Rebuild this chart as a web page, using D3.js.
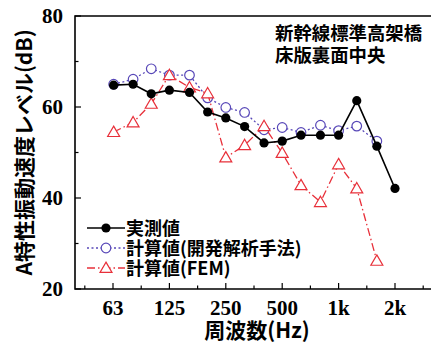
<!DOCTYPE html>
<html>
<head>
<meta charset="utf-8">
<script src="https://cdn.jsdelivr.net/npm/d3@7"></script>
<style>
  body { margin: 0; background: #fff; }
  svg { display: block; }
</style>
</head>
<body>
<div id="chart"></div>
<script>
// 1/3 octave band centre frequencies (Hz)
var freqs = [63, 80, 100, 125, 160, 200, 250, 315, 400, 500, 630, 800, 1000, 1250, 1600, 2000];
var measured = [64.8, 65.0, 62.9, 63.7, 63.2, 58.9, 57.6, 55.7, 52.1, 52.5, 53.8, 53.8, 53.8, 61.4, 51.4, 42.1];
var analytic = [65.0, 66.1, 68.4, 67.0, 67.0, 62.0, 59.9, 58.8, 55.0, 55.5, 54.4, 56.0, 54.8, 55.8, 52.5, null];
var fem = [54.5, 56.6, 60.7, 67.0, 64.3, 63.0, 48.9, 51.6, 55.8, 49.9, 42.8, 39.1, 47.4, 42.1, 26.2, null];

var xTickVals = [62.5, 125, 250, 500, 1000, 2000];
var xTickLabels = ["63", "125", "250", "500", "1k", "2k"];
var xMinorVals = [44.2, 88.4, 176.8, 353.6, 707.1, 1414.2, 2828.4];
var yTickVals = [20, 40, 60, 80];
var yMinorVals = [30, 50, 70];

var legendLabels = ["実測値", "計算値(開発解析手法)", "計算値(FEM)"];
var title1 = "新幹線標準高架橋";
var title2 = "床版裏面中央";

var W = 431, H = 345;
var plot = {left: 75, top: 16, right: 440, bottom: 289};

var svg = d3.select("#chart").append("svg")
  .attr("width", W).attr("height", H);

var x = d3.scaleLog().domain([62.5, 2000]).range([113, 395]);
var y = d3.scaleLinear().domain([20, 80]).range([plot.bottom, plot.top]);

var numFont = "'Liberation Serif', 'DejaVu Serif', serif";
var jpFont = "'Noto Sans CJK JP', sans-serif";

// frame
svg.append("path")
  .attr("d", "M" + plot.right + "," + plot.top + "H" + plot.left + "V" + plot.bottom + "H" + plot.right)
  .attr("fill", "none").attr("stroke", "#000").attr("stroke-width", 1.6);

// x ticks (inward)
svg.selectAll(".xmaj").data(xTickVals).enter().append("line")
  .attr("x1", function(d){ return x(d); }).attr("x2", function(d){ return x(d); })
  .attr("y1", plot.bottom).attr("y2", plot.bottom - 6)
  .attr("stroke", "#000").attr("stroke-width", 1.2);
svg.selectAll(".xmin").data(xMinorVals).enter().append("line")
  .attr("x1", function(d){ return x(d); }).attr("x2", function(d){ return x(d); })
  .attr("y1", plot.bottom).attr("y2", plot.bottom - 3.5)
  .attr("stroke", "#000").attr("stroke-width", 1.2);
svg.selectAll(".xlab").data(xTickVals).enter().append("text")
  .attr("x", function(d){ return x(d); }).attr("y", 315)
  .attr("text-anchor", "middle")
  .style("font", "bold 21px " + numFont)
  .text(function(d, i){ return xTickLabels[i]; });

// y ticks (inward)
svg.selectAll(".ymaj").data(yTickVals).enter().append("line")
  .attr("x1", plot.left).attr("x2", plot.left + 6)
  .attr("y1", function(d){ return y(d); }).attr("y2", function(d){ return y(d); })
  .attr("stroke", "#000").attr("stroke-width", 1.2);
svg.selectAll(".ymin").data(yMinorVals).enter().append("line")
  .attr("x1", plot.left).attr("x2", plot.left + 3.5)
  .attr("y1", function(d){ return y(d); }).attr("y2", function(d){ return y(d); })
  .attr("stroke", "#000").attr("stroke-width", 1.2);
svg.selectAll(".ylab").data(yTickVals).enter().append("text")
  .attr("x", 63).attr("y", function(d){ return y(d) + 7; })
  .attr("text-anchor", "end")
  .style("font", "bold 21px " + numFont)
  .text(function(d){ return d; });

// axis titles
svg.append("text")
  .attr("transform", "translate(32," + ((plot.top + plot.bottom) / 2) + ") rotate(-90)")
  .attr("text-anchor", "middle")
  .style("font", "bold 21px " + jpFont)
  .text("A特性振動速度レベル(dB)");
svg.append("text")
  .attr("x", 257).attr("y", 338)
  .attr("text-anchor", "middle")
  .style("font", "bold 21px " + jpFont)
  .text("周波数(Hz)");

// annotation
svg.append("text").attr("x", 275).attr("y", 40)
  .style("font", "bold 18.4px " + jpFont).text(title1);
svg.append("text").attr("x", 275).attr("y", 62)
  .style("font", "bold 18.4px " + jpFont).text(title2);

// series
var series = [
  {vals: measured, color: "#000", dash: null, width: 1.6, mark: "dot"},
  {vals: analytic, color: "#5848b8", dash: "2,2.5", width: 1.3, mark: "circle"},
  {vals: fem, color: "#e8303a", dash: "8,3,1.5,3", width: 1.3, mark: "tri"}
];

var line = d3.line()
  .defined(function(d){ return d[1] != null; })
  .x(function(d){ return x(d[0]); })
  .y(function(d){ return y(d[1]); });

function drawMark(g, mark, color, cx, cy) {
  if (mark == "dot") {
    g.append("circle").attr("cx", cx).attr("cy", cy).attr("r", 4.6).attr("fill", "#000");
  } else if (mark == "circle") {
    g.append("circle").attr("cx", cx).attr("cy", cy).attr("r", 4.8)
      .attr("fill", "#fff").attr("stroke", color).attr("stroke-width", 1.2);
  } else {
    g.append("path")
      .attr("d", d3.symbol().type(d3.symbolTriangle).size(62)())
      .attr("transform", "translate(" + cx + "," + (cy + 1) + ")")
      .attr("fill", "#fff").attr("stroke", color).attr("stroke-width", 1.2);
  }
}

// analytic first, then FEM, then measured on top
[1, 2, 0].forEach(function(k){
  var s = series[k];
  var pts = freqs.map(function(f, i){ return [f, s.vals[i]]; });
  svg.append("path").datum(pts)
    .attr("d", line)
    .attr("fill", "none").attr("stroke", s.color)
    .attr("stroke-width", s.width)
    .attr("stroke-dasharray", s.dash);
  var g = svg.append("g");
  pts.forEach(function(p){
    if (p[1] != null) drawMark(g, s.mark, s.color, x(p[0]), y(p[1]));
  });
});

// legend
var legY = [228, 248, 268];
series.forEach(function(s, i){
  svg.append("line")
    .attr("x1", 87).attr("x2", 125).attr("y1", legY[i]).attr("y2", legY[i])
    .attr("stroke", s.color).attr("stroke-width", s.width)
    .attr("stroke-dasharray", s.dash);
  var g = svg.append("g");
  drawMark(g, s.mark, s.color, 106, legY[i]);
  svg.append("text").attr("x", 126).attr("y", legY[i] + 6.5)
    .style("font", "bold 18px " + jpFont)
    .text(legendLabels[i]);
});
</script>
</body>
</html>
